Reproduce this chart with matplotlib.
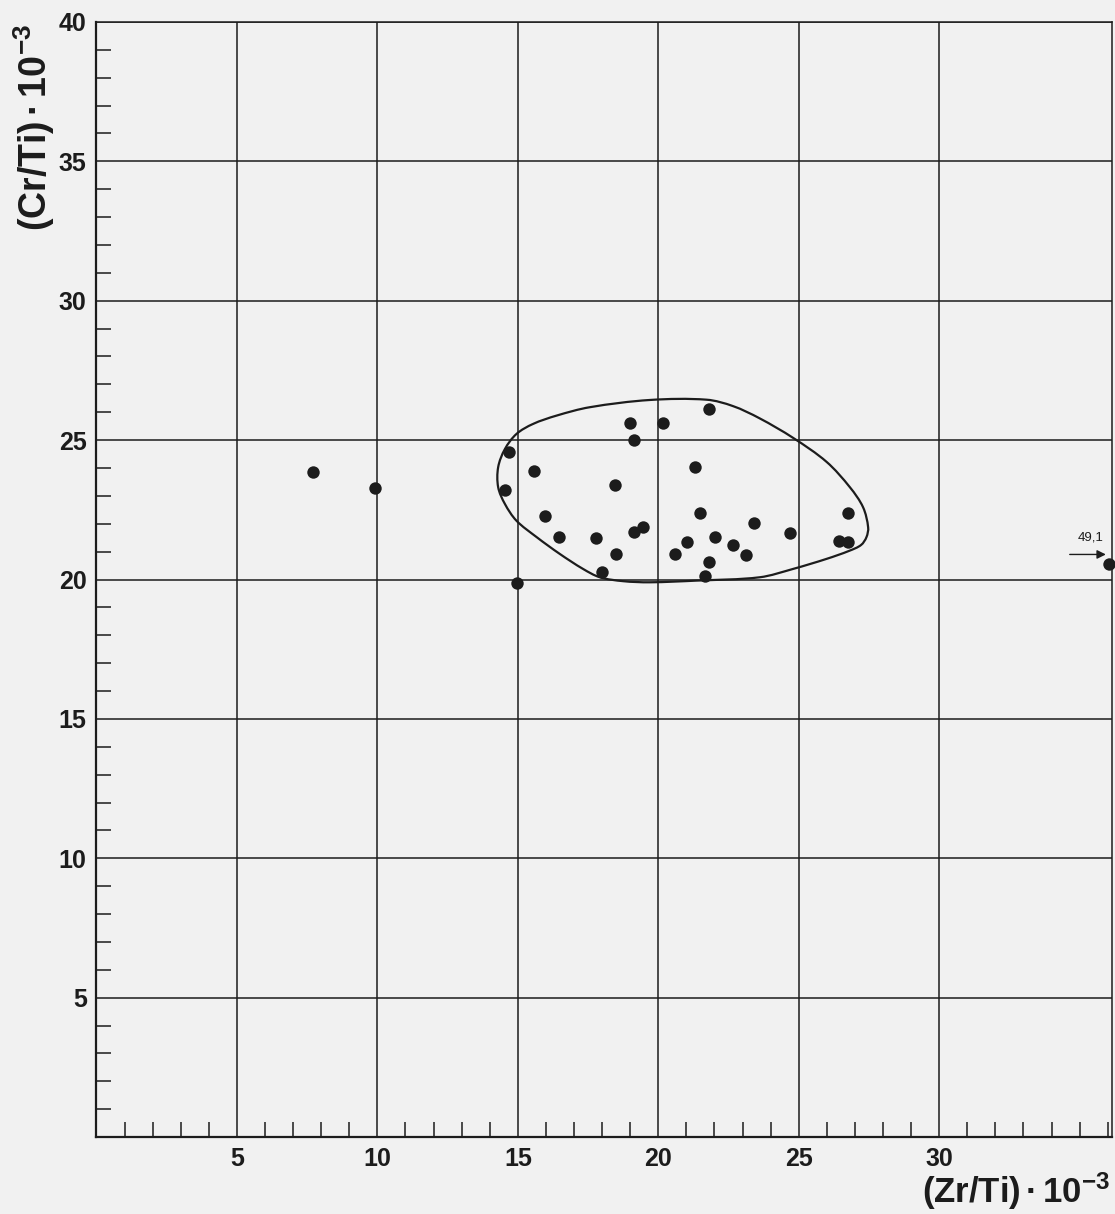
import numpy as np
import matplotlib
matplotlib.use('Agg')
import matplotlib.pyplot as plt
from matplotlib.path import Path
from matplotlib.patches import PathPatch
from matplotlib.ticker import MultipleLocator
from matplotlib.transforms import offset_copy

plt.rcParams['font.family'] = ['Liberation Sans', 'DejaVu Sans']
plt.rcParams['font.weight'] = 'bold'
plt.rcParams['mathtext.fontset'] = 'custom'
plt.rcParams['mathtext.rm'] = 'Liberation Sans:bold'
plt.rcParams['mathtext.it'] = 'Liberation Sans:bold'
plt.rcParams['mathtext.bf'] = 'Liberation Sans:bold'
plt.rcParams['mathtext.fallback'] = 'stixsans'

INK = '#1c1c1c'
PAPER = '#f1f1f1'

# Zr/Ti and Cr/Ti ratios (x 10^-3) of the samples
zr_ti = [7.70, 9.91,
         21.79, 18.99, 20.16, 19.15, 14.70, 15.57, 21.29, 14.56, 18.46, 15.97,
         21.48, 26.76, 23.41, 19.45, 19.15, 24.69, 16.45, 17.77, 22.02, 26.42,
         26.77, 21.01, 22.65, 18.51, 20.61, 23.12, 21.82, 17.98, 21.65, 14.96]
cr_ti = [23.87, 23.30,
         26.12, 25.63, 25.62, 25.02, 24.58, 23.88, 24.05, 23.21, 23.38, 22.27,
         22.37, 22.40, 22.01, 21.88, 21.70, 21.66, 21.52, 21.50, 21.54, 21.37,
         21.33, 21.33, 21.22, 20.93, 20.93, 20.89, 20.62, 20.26, 20.14, 19.88]

# one sample lies far off the scale; it sits on the right edge with its value
far_zr_ti = 49.1
far_cr_ti = 20.55

# outline drawn around the main group (clockwise from the upper left)
outline_x = [15.54, 16.38, 17.56, 19.70, 21.72, 22.66, 23.61, 24.80, 25.99,
             26.82, 27.29, 27.47, 27.41, 27.22, 26.80, 25.99, 24.80, 23.61,
             21.36, 19.70, 18.75, 17.92, 17.32, 16.49, 15.67, 14.95, 14.54,
             14.30, 14.30, 14.54, 14.95]
outline_y = [25.58, 25.88, 26.18, 26.44, 26.45, 26.22, 25.78, 25.08, 24.22,
             23.31, 22.59, 21.87, 21.52, 21.24, 21.03, 20.74, 20.38, 20.08,
             19.96, 19.90, 19.94, 20.08, 20.38, 20.92, 21.52, 22.11, 22.71,
             23.31, 24.03, 24.68, 25.22]

X_MAX = 36.15
Y_MAX = 40


def closed_curve(xs, ys):
    # smooth closed curve through the points; tangents are weighted by
    # the neighbouring chord lengths so uneven spacing gives no kinks
    pts = np.column_stack([xs, ys])
    n = len(pts)
    nxt = np.roll(pts, -1, axis=0)
    prv = np.roll(pts, 1, axis=0)
    d_next = np.hypot(*(nxt - pts).T)
    d_prev = np.hypot(*(pts - prv).T)
    tang = (nxt - prv) / (d_next + d_prev)[:, None]
    verts = [pts[0]]
    codes = [Path.MOVETO]
    for i in range(n):
        j = (i + 1) % n
        seg = d_next[i]
        verts += [pts[i] + tang[i] * seg / 3, pts[j] - tang[j] * seg / 3, pts[j]]
        codes += [Path.CURVE4] * 3
    return Path(verts, codes)


fig = plt.figure(figsize=(11.15, 12.14), dpi=100, facecolor=PAPER)
ax = fig.add_axes([0.0865, 0.0634, 0.9108, 0.9185])
ax.set_facecolor(PAPER)
ax.set_xlim(0, X_MAX)
ax.set_ylim(0, Y_MAX)

ax.set_xticks(range(5, 31, 5))
ax.set_yticks(range(5, 41, 5))
ax.xaxis.set_minor_locator(MultipleLocator(1))
ax.yaxis.set_minor_locator(MultipleLocator(1))
ax.tick_params(which='major', length=0, labelsize=18, colors=INK)
ax.tick_params(axis='x', which='major', pad=7)
ax.tick_params(axis='y', which='major', pad=7)
ax.tick_params(which='minor', direction='in', length=11, width=1.1, color=INK)
ax.grid(True, which='major', color=INK, linewidth=1.1)
ax.set_axisbelow(True)

for side, lw in (('left', 1.6), ('bottom', 1.6), ('top', 1.1), ('right', 1.1)):
    ax.spines[side].set_linewidth(lw)
    ax.spines[side].set_color(INK)

ax.add_patch(PathPatch(closed_curve(outline_x, outline_y), facecolor='none',
                       edgecolor=INK, linewidth=1.6, zorder=3))

ax.scatter(zr_ti, cr_ti, s=80, color=INK, linewidths=0, zorder=4)

# off-scale sample: dot on the right edge, arrow and its value above
far_x = min(far_zr_ti, X_MAX - 0.12)
ax.scatter([far_x], [far_cr_ti], s=80, color=INK, linewidths=0, zorder=4, clip_on=False)
arrow_tip = offset_copy(ax.transData, fig=fig, x=-2, y=7, units='points')
ax.annotate('', xy=(far_x, far_cr_ti), xycoords=arrow_tip,
            xytext=(-26, 0), textcoords='offset points',
            arrowprops=dict(arrowstyle='-|>', color=INK, lw=1.0,
                            shrinkA=0, shrinkB=0, mutation_scale=13),
            annotation_clip=False)
ax.annotate(f'{far_zr_ti:.1f}'.replace('.', ','), xy=(far_x, far_cr_ti),
            xytext=(-13, 19), textcoords='offset points', ha='center', va='center',
            fontsize=9.5, fontweight='normal', color=INK, annotation_clip=False)

fig.text(0.996, 1 - 1203 / 1214, r'$(Zr/Ti)\,·\,10^{-3}$', ha='right', va='baseline',
         fontsize=25, color=INK)
fig.text(0.031, 1 - 24 / 1214, r'$(Cr/Ti)\,·\,10^{-3}$', ha='center', va='top',
         rotation=90, fontsize=27, color=INK)

fig.savefig('out.png', dpi=100, facecolor=PAPER)
